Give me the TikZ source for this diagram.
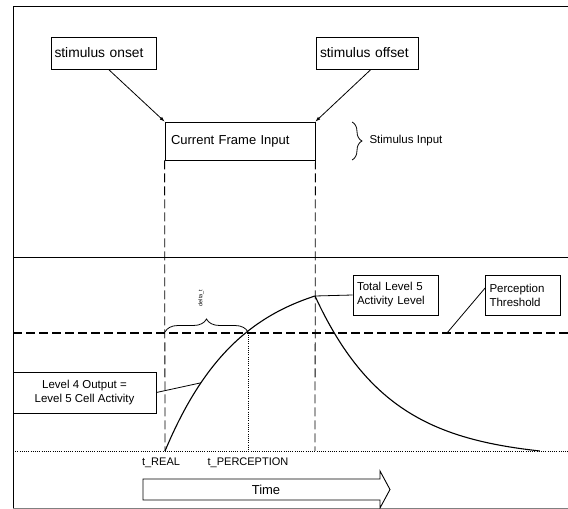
\documentclass[tikz,border=0pt]{standalone}
\usepackage{fontspec}
\setmainfont{Liberation Sans}
\usetikzlibrary{arrows.meta,calc,decorations.pathreplacing}
\begin{document}
\begin{tikzpicture}[x=1pt,y=1pt,
  box/.style={draw,line width=0.8pt,inner sep=0pt},
  bigtxt/.style={font=\fontsize{13}{15}\selectfont},
  toptxt/.style={font=\fontsize{13.8}{15}\selectfont},
  smalltxt/.style={font=\fontsize{11.5}{14}\selectfont},
  conn/.style={line width=0.8pt},
  arr/.style={line width=0.8pt,-{Latex[length=5pt,width=3.5pt]}},
  vdash/.style={line width=0.8pt,dash pattern=on 9pt off 4pt},
  thr/.style={line width=1.2pt,dash pattern=on 9pt off 4pt},
  dotl/.style={line width=0.7pt,dash pattern=on 0.8pt off 1.4pt},
  curve/.style={line width=1.1pt},
  brc/.style={decorate,line width=0.8pt}
]
\useasboundingbox (0,0) rectangle (568,509);
% frame
\draw[line width=0.9pt] (568,503) -- (13,503) -- (13,0);
\draw[line width=0.5pt,gray] (13,1) -- (568,1);
\draw[line width=0.9pt] (13,252) -- (568,252);

% top boxes
\node[box,toptxt,minimum width=105pt,minimum height=32pt,align=left,text width=98pt] (onset) at (103.5,456) {stimulus onset};
\node[box,toptxt,minimum width=102pt,minimum height=32pt,align=left,text width=94pt] (offset) at (367,456) {stimulus offset};
\node[box,bigtxt,minimum width=150pt,minimum height=38pt,align=left,text width=138pt] (cfi) at (240,368) {Current Frame Input};

\draw[arr] ($(onset.south)+(5,0)$) -- (cfi.north west);
\draw[arr] ($(offset.south)+(4,0)$) -- (cfi.north east);

% stimulus input brace
\draw[brc,decoration={brace,amplitude=10pt}] (352,387) -- (352,349);
\node[anchor=west,font=\fontsize{11.5}{13}\selectfont] (stim) at (366,368) {Stimulus Input};

% threshold and baseline
\coordinate (thrL) at (13,176);
\coordinate (thrR) at (568,176);
\coordinate (baseL) at (13,58);
\coordinate (baseR) at (568,58);
\draw[thr] (thrL) -- (thrR);
\draw[dotl] (baseL) -- (baseR);

% dashed verticals
\coordinate (treal) at (165,58);
\coordinate (tpeak) at (315,58);
\draw[vdash] (cfi.south west) -- (treal);
\draw[vdash] (cfi.south east) -- (tpeak);

% curves
\draw[curve] plot[domain=0:1,samples=60,smooth] ({165+150*\x},{58+155*(1-exp(-2*\x))/(1-exp(-2))});
\draw[curve] plot[domain=0:1,samples=60,smooth] ({315+225*\x},{58+155*(exp(-3*\x)-exp(-3))/(1-exp(-3))});
\coordinate (peak) at (315,213);
\coordinate (cross) at (248,176.5);
\coordinate (tperc) at (248,58);
\draw[dotl] (cross) -- (tperc);

% delta brace
\draw[brc,decoration={brace,amplitude=13pt}] (165,177) -- (248,177);
\node[rotate=90,font=\fontsize{5.5}{6}\selectfont,inner sep=0pt] (delta) at (201,211) {delta\_t};

% label boxes
\node[box,smalltxt,minimum width=85pt,minimum height=40pt,align=left,text width=77pt] (total) at (395.5,214) {Total Level 5\\Activity Level};
\draw[conn] (peak) -- (total.west);
\node[box,smalltxt,minimum width=75pt,minimum height=40pt,align=left,text width=67pt] (perc) at (523,214) {Perception\\Threshold};
\coordinate (thrpt) at (447,176);
\draw[conn] ($(perc.west)+(0,7)$) -- (thrpt);
\node[box,smalltxt,minimum width=143pt,minimum height=41pt,align=center] (lvl4) at (84.5,116.5) {Level 4 Output =\\Level 5 Cell Activity};
\coordinate (onc) at (201,126.2);
\draw[conn] (lvl4.east) -- (onc);

% time labels
\node[font=\fontsize{11}{13}\selectfont] (treallbl) at (161,46) {t\_REAL};
\node[font=\fontsize{11}{13}\selectfont] (tperclbl) at (248,46) {t\_PERCEPTION};

% time arrow
\draw[line width=0.9pt] (143,30) -- (380,30) -- (380,38) -- (390,19.5) -- (380,1) -- (380,9) -- (143,9) -- cycle;
\node[bigtxt] (time) at (266,19.5) {Time};
\end{tikzpicture}
\end{document}
